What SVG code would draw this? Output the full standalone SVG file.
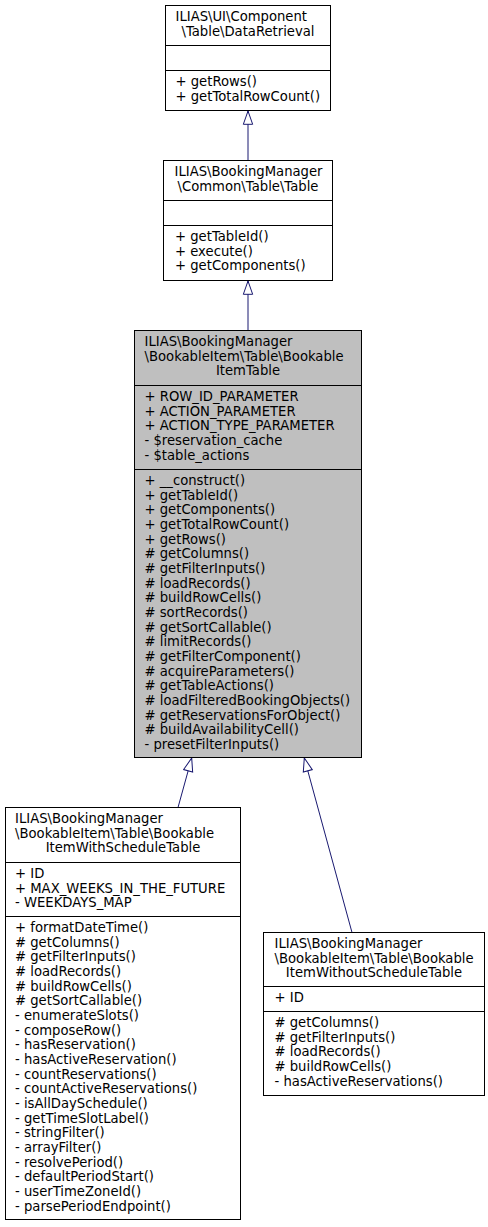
<svg xmlns="http://www.w3.org/2000/svg" width="488" height="1227" viewBox="0 0 488 1227">
<defs>
<style>
.bg{fill:#ffffff}
.box{fill:#ffffff;stroke:#000000;stroke-width:1}
.main{fill:#bfbfbf;stroke:#000000;stroke-width:1}
.sep{stroke:#000000;stroke-width:1;fill:none}
text{font-family:"DejaVu Sans","Liberation Sans",sans-serif;font-size:13.2px;fill:#000000}
.c{text-anchor:middle}
.edge{stroke:#191970;stroke-width:1;fill:none;marker-end:url(#inh)}
</style>
<marker id="inh" markerUnits="userSpaceOnUse" markerWidth="16" markerHeight="12" viewBox="-1 -1 16 12" refX="13.3" refY="4.67" orient="auto">
<path d="M0,0 L13.3,4.67 L0,9.33 Z" fill="#ffffff" stroke="#191970" stroke-width="1"/>
</marker>
</defs>
<rect class="bg" x="0" y="0" width="488" height="1227"/>

<g id="connectors">
<path class="edge" d="M248,160.5 L248,111"/>
<path class="edge" d="M248,330.5 L248,281"/>
<path class="edge" d="M178,807.5 L191.7,758"/>
<path class="edge" d="M352,932.5 L304.3,758"/>
</g>

<g id="node_DataRetrieval">
<rect class="box" x="165.5" y="5.5" width="165" height="105"/>
<path class="sep" d="M165.5,45.5 H330.5 M165.5,70.5 H330.5"/>
<text x="175.5" y="21">ILIAS\UI\Component</text>
<text class="c" x="248" y="35.7">\Table\DataRetrieval</text>
<text x="175.5" y="86">+ getRows()</text>
<text x="175.5" y="100.7">+ getTotalRowCount()</text>
</g>

<g id="node_CommonTable">
<rect class="box" x="163.5" y="160.5" width="169" height="120"/>
<path class="sep" d="M163.5,200.5 H332.5 M163.5,225.5 H332.5"/>
<text x="174.5" y="176">ILIAS\BookingManager</text>
<text class="c" x="248" y="190.7">\Common\Table\Table</text>
<text x="175" y="241">+ getTableId()</text>
<text x="175" y="255.7">+ execute()</text>
<text x="175" y="270.3">+ getComponents()</text>
</g>

<g id="node_BookableItemTable">
<rect class="main" x="134.5" y="330.5" width="227" height="427"/>
<path class="sep" d="M134.5,385.5 H361.5 M134.5,469.5 H361.5"/>
<text x="144.5" y="346">ILIAS\BookingManager</text>
<text x="144.5" y="360.7">\BookableItem\Table\Bookable</text>
<text class="c" x="248" y="375.3">ItemTable</text>
<text x="144.5" y="401">+ ROW_ID_PARAMETER</text>
<text x="144.5" y="415.7">+ ACTION_PARAMETER</text>
<text x="144.5" y="430.3">+ ACTION_TYPE_PARAMETER</text>
<text x="144.5" y="445">- $reservation_cache</text>
<text x="144.5" y="459.7">- $table_actions</text>
<text x="144.5" y="485">+ __construct()</text>
<text x="144.5" y="499.7">+ getTableId()</text>
<text x="144.5" y="514.3">+ getComponents()</text>
<text x="144.5" y="529">+ getTotalRowCount()</text>
<text x="144.5" y="543.7">+ getRows()</text>
<text x="144.5" y="558.3"># getColumns()</text>
<text x="144.5" y="573"># getFilterInputs()</text>
<text x="144.5" y="587.7"># loadRecords()</text>
<text x="144.5" y="602.3"># buildRowCells()</text>
<text x="144.5" y="617"># sortRecords()</text>
<text x="144.5" y="631.7"># getSortCallable()</text>
<text x="144.5" y="646.3"># limitRecords()</text>
<text x="144.5" y="661"># getFilterComponent()</text>
<text x="144.5" y="675.7"># acquireParameters()</text>
<text x="144.5" y="690.3"># getTableActions()</text>
<text x="144.5" y="705"># loadFilteredBookingObjects()</text>
<text x="144.5" y="719.7"># getReservationsForObject()</text>
<text x="144.5" y="734.3"># buildAvailabilityCell()</text>
<text x="144.5" y="749">- presetFilterInputs()</text>
</g>

<g id="node_WithSchedule">
<rect class="box" x="5.5" y="807.5" width="235" height="412"/>
<path class="sep" d="M5.5,862.5 H240.5 M5.5,916.5 H240.5"/>
<text x="15" y="823">ILIAS\BookingManager</text>
<text x="15" y="837.7">\BookableItem\Table\Bookable</text>
<text class="c" x="123" y="852.3">ItemWithScheduleTable</text>
<text x="15" y="878">+ ID</text>
<text x="15" y="892.7">+ MAX_WEEKS_IN_THE_FUTURE</text>
<text x="15" y="907.3">- WEEKDAYS_MAP</text>
<text x="15" y="932">+ formatDateTime()</text>
<text x="15" y="946.7"># getColumns()</text>
<text x="15" y="961.3"># getFilterInputs()</text>
<text x="15" y="976"># loadRecords()</text>
<text x="15" y="990.7"># buildRowCells()</text>
<text x="15" y="1005.3"># getSortCallable()</text>
<text x="15" y="1020">- enumerateSlots()</text>
<text x="15" y="1034.7">- composeRow()</text>
<text x="15" y="1049.3">- hasReservation()</text>
<text x="15" y="1064">- hasActiveReservation()</text>
<text x="15" y="1078.7">- countReservations()</text>
<text x="15" y="1093.3">- countActiveReservations()</text>
<text x="15" y="1108">- isAllDaySchedule()</text>
<text x="15" y="1122.7">- getTimeSlotLabel()</text>
<text x="15" y="1137.3">- stringFilter()</text>
<text x="15" y="1152">- arrayFilter()</text>
<text x="15" y="1166.7">- resolvePeriod()</text>
<text x="15" y="1181.3">- defaultPeriodStart()</text>
<text x="15" y="1196">- userTimeZoneId()</text>
<text x="15" y="1210.7">- parsePeriodEndpoint()</text>
</g>

<g id="node_WithoutSchedule">
<rect class="box" x="263.5" y="932.5" width="221" height="163"/>
<path class="sep" d="M263.5,986.5 H484.5 M263.5,1011.5 H484.5"/>
<text x="274.5" y="948">ILIAS\BookingManager</text>
<text x="274.5" y="962.7">\BookableItem\Table\Bookable</text>
<text class="c" x="374" y="977.3">ItemWithoutScheduleTable</text>
<text x="274.5" y="1002">+ ID</text>
<text x="274.5" y="1027"># getColumns()</text>
<text x="274.5" y="1041.7"># getFilterInputs()</text>
<text x="274.5" y="1056.3"># loadRecords()</text>
<text x="274.5" y="1071"># buildRowCells()</text>
<text x="274.5" y="1085.7">- hasActiveReservations()</text>
</g>
</svg>
